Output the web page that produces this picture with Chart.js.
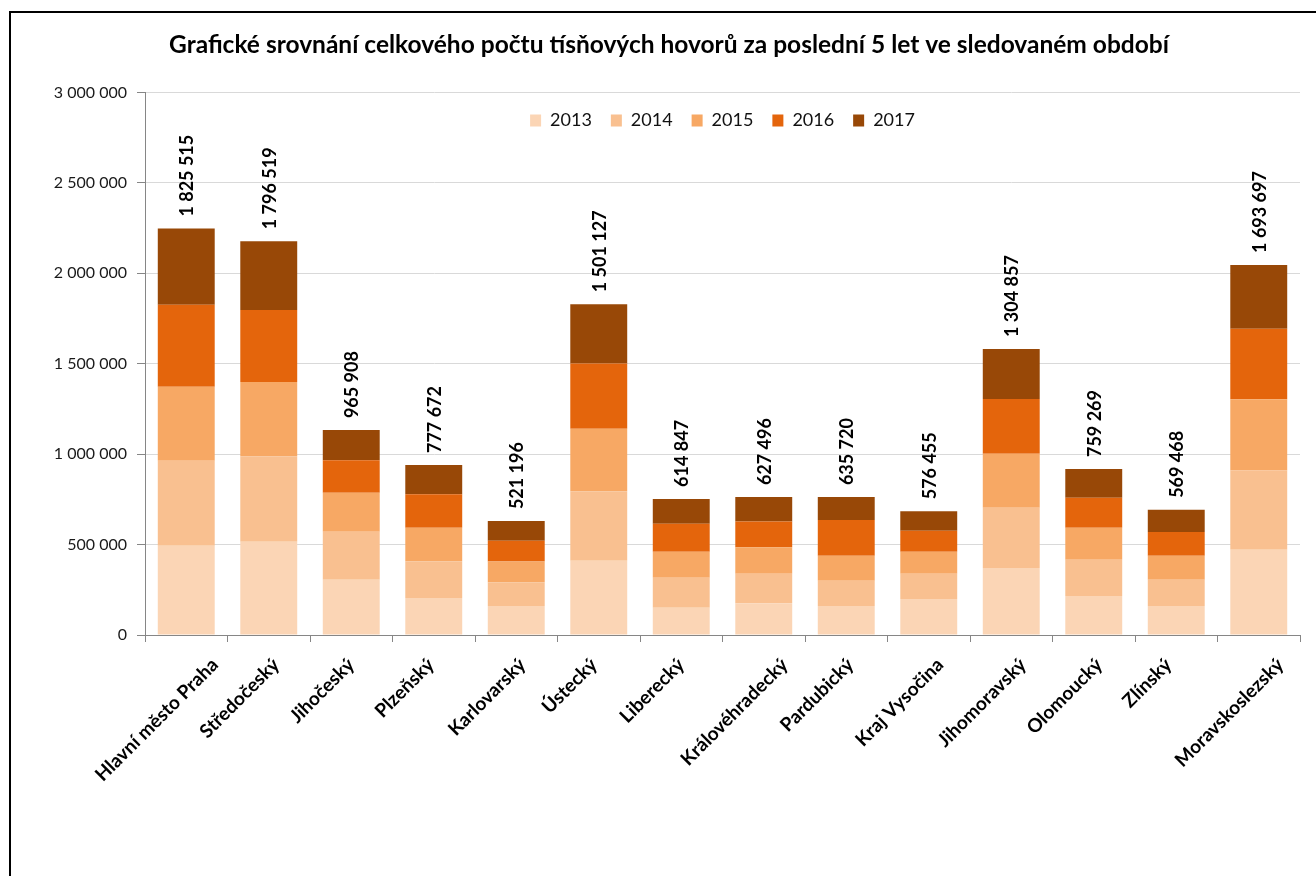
<!DOCTYPE html>
<html>
<head>
<meta charset="utf-8">
<script src="https://cdn.jsdelivr.net/npm/chart.js@4"></script>
<style>
  html, body { margin: 0; padding: 0; background: #fff; }
  #wrap { position: relative; width: 1316px; height: 876px; overflow: hidden; }
  #c { position: absolute; left: 0; top: 0; }
  #frame { position: absolute; left: 9px; top: 11px; width: 2000px; height: 2000px;
           border-left: 2px solid #000; border-top: 2px solid #000; pointer-events: none; }
</style>
</head>
<body>
<div id="wrap">
  <canvas id="c" width="1316" height="876"></canvas>
  <div id="frame"></div>
</div>
<script>
const categories = ["Hlavní město Praha", "Středočeský", "Jihočeský", "Plzeňský", "Karlovarský", "Ústecký",
  "Liberecký", "Královéhradecký", "Pardubický", "Kraj Vysočina", "Jihomoravský", "Olomoucký", "Zlínský", "Moravskoslezský"];
const years = ["2013", "2014", "2015", "2016", "2017"];
const v2013 = [493000, 515000, 305800, 205200, 161000, 410400, 150900, 175000, 161000, 199200, 370200, 215300, 161000, 470800];
const v2014 = [470700, 472900, 265600, 203200, 130700, 384300, 165000, 163000, 138800, 138800, 334000, 201200, 144800, 438600];
const v2015 = [408300, 410400, 215300, 185100, 114700, 346100, 144800, 146900, 138800, 122700, 297800, 177000, 132800, 394400];
const v2016 = [453500, 398200, 179200, 184200, 114800, 360300, 154100, 142600, 197100, 115800, 302900, 165800, 130900, 389900];
const v2017 = [421500, 380500, 166900, 161900, 108600, 327900, 137700, 135000, 126800, 107600, 276500, 158200, 122600, 352500];
const labelValues = [1825515, 1796519, 965908, 777672, 521196, 1501127, 614847, 627496, 635720, 576455, 1304857, 759269, 569468, 1693697];
const colors = ["#FBD5B5", "#F9C090", "#F7A864", "#E4650C", "#984807"];

const fmt = v => String(v).replace(/\B(?=(\d{3})+(?!\d))/g, " ");
const series = [v2013, v2014, v2015, v2016, v2017];

// Legend sits inside the plot area: it takes no vertical space in the layout,
// but keeps its real height for drawing.
const overlayLegendPlugin = {
  id: "overlayLegend",
  beforeUpdate(chart) {
    const lg = chart.legend;
    if (lg && !lg._zeroPatched) {
      const orig = lg.fit;
      lg.fit = function () { orig.call(this); this._realHeight = this.height; this.height = 0; };
      lg._zeroPatched = true;
    }
  },
  afterLayout(chart) {
    const lg = chart.legend;
    if (lg && lg._realHeight) {
      lg.height = lg._realHeight;
      lg.bottom = lg.top + lg._realHeight;
    }
  }
};

const valueLabelPlugin = {
  id: "valueLabels",
  afterDatasetsDraw(chart) {
    const ctx = chart.ctx;
    const meta = chart.getDatasetMeta(series.length - 1);
    ctx.save();
    ctx.font = "bold 18px Lato";
    ctx.fillStyle = "#000";
    ctx.textAlign = "left";
    ctx.textBaseline = "middle";
    meta.data.forEach((bar, i) => {
      ctx.save();
      ctx.translate(bar.x + 1, bar.y - 12);
      ctx.rotate(-Math.PI / 2);
      ctx.fillText(fmt(labelValues[i]), 0, 0);
      ctx.restore();
    });
    ctx.restore();
  }
};

const xLabelPlugin = {
  id: "xLabels",
  afterDraw(chart) {
    const ctx = chart.ctx;
    const xs = chart.scales.x;
    ctx.save();
    ctx.font = "bold 19px Lato";
    ctx.fillStyle = "#000";
    ctx.textAlign = "right";
    ctx.textBaseline = "top";
    categories.forEach((c, i) => {
      const x = xs.getPixelForValue(i);
      const w = ctx.measureText(c).width;
      ctx.save();
      ctx.translate(x + 0.35 * (w - 70) - 11, xs.top + 20);
      ctx.rotate(-Math.PI / 4);
      ctx.fillText(c, 0, 0);
      ctx.restore();
    });
    ctx.restore();
  }
};

new Chart(document.getElementById("c"), {
  type: "bar",
  data: {
    labels: categories,
    datasets: series.map((d, k) => ({
      label: years[k],
      data: d,
      backgroundColor: colors[k],
      borderWidth: 0,
      barPercentage: 0.69,
      categoryPercentage: 1.0
    }))
  },
  options: {
    responsive: false,
    animation: false,
    layout: { padding: { left: 38, right: 16, top: 0, bottom: 0 } },
    plugins: {
      title: {
        display: true,
        text: "Grafické srovnání celkového počtu tísňových hovorů za poslední 5 let ve sledovaném období",
        font: { family: "Lato", size: 24.5, weight: "bold" },
        color: "#000",
        padding: { top: 30, bottom: 33 }
      },
      legend: {
        position: "top",
        align: "center",
        fullSize: false,
        labels: {
          font: { family: "Lato", size: 18 },
          color: "#111",
          boxWidth: 11,
          boxHeight: 12,
          padding: 19
        }
      },
      tooltip: { enabled: false }
    },
    scales: {
      x: {
        stacked: true,
        grid: { offset: true, drawOnChartArea: false, tickLength: 7, tickColor: "#868686", color: "#868686" },
        border: { color: "#868686", width: 1 },
        ticks: { display: false },
        afterFit: s => { s.height = 241; }
      },
      y: {
        stacked: true,
        min: 0,
        max: 3000000,
        ticks: {
          stepSize: 500000,
          callback: v => fmt(v),
          font: { family: "Lato", size: 16 },
          color: "#1a1a1a",
          padding: 10
        },
        grid: { color: "#d9d9d9", tickLength: 8, tickColor: "#868686" },
        border: { color: "#868686", width: 1 },
        afterFit: s => { s.width = 107; }
      }
    }
  },
  plugins: [overlayLegendPlugin, valueLabelPlugin, xLabelPlugin]
});
</script>
</body>
</html>
